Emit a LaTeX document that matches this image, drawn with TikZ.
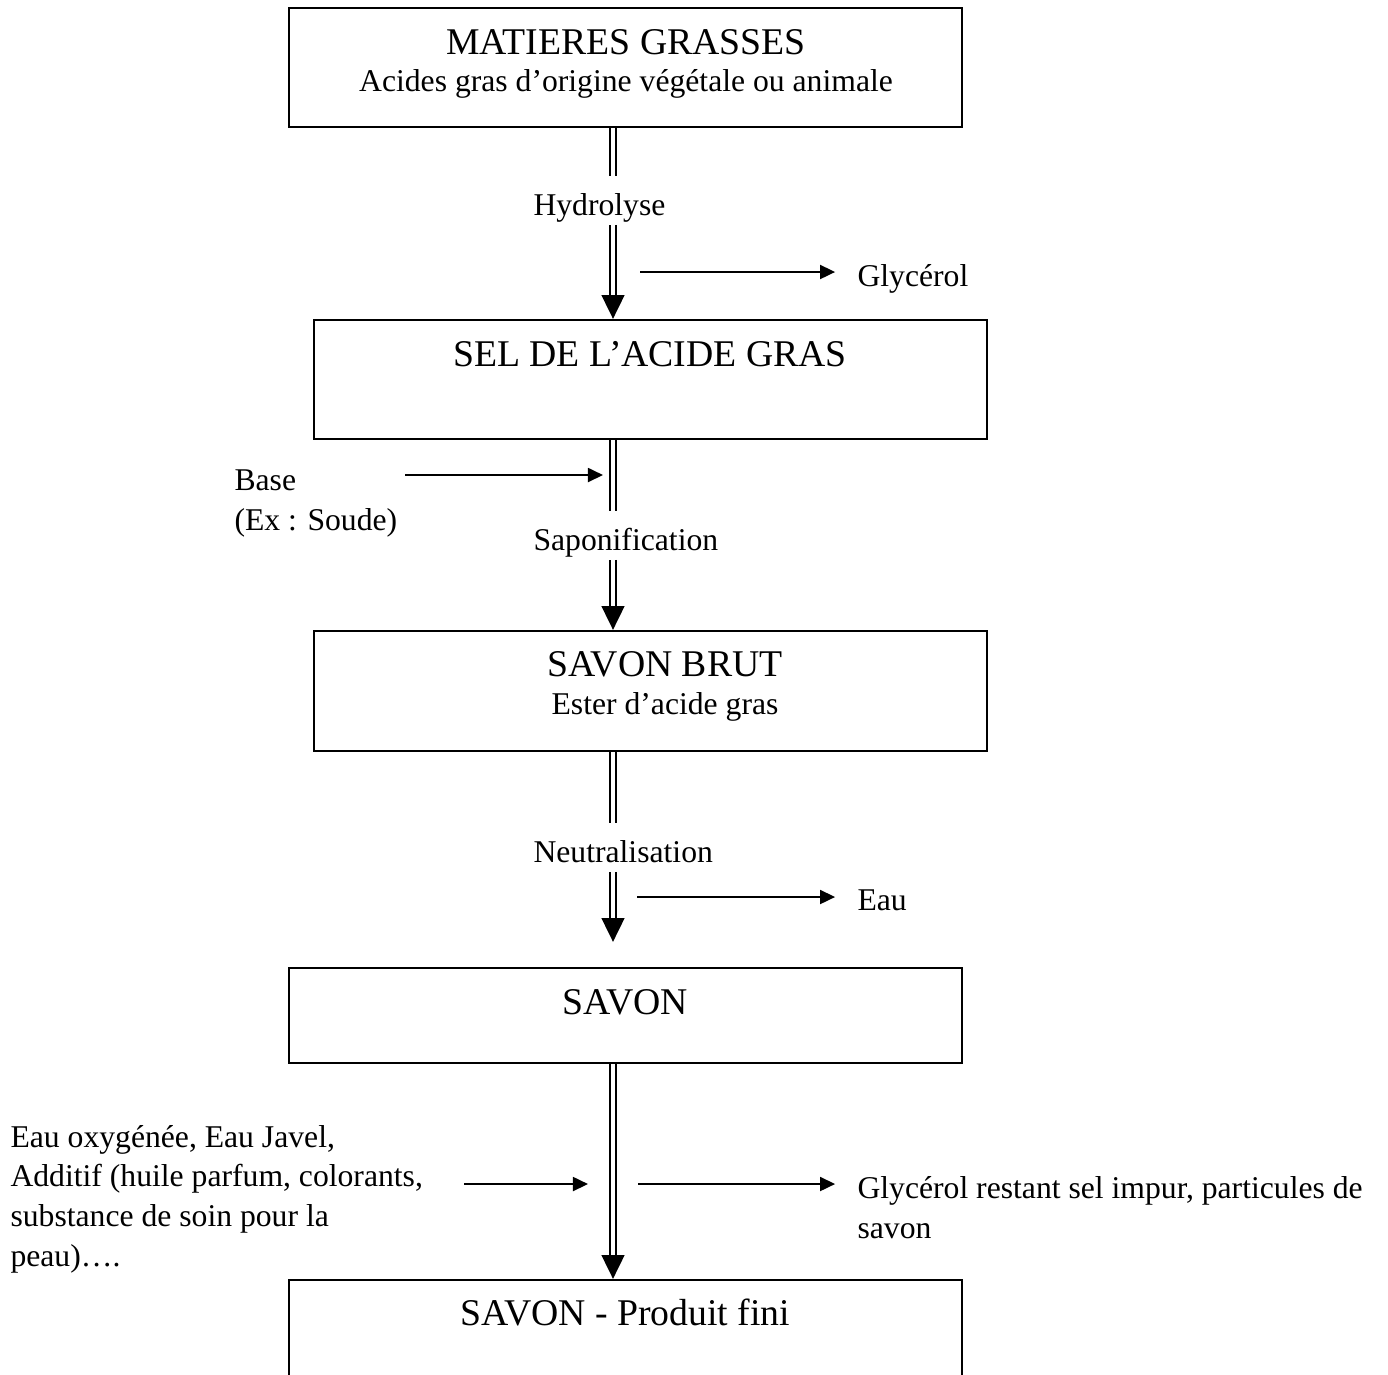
\documentclass[tikz,border=0pt]{standalone}
\usepackage{fontspec}
\setmainfont{Liberation Serif}
\usetikzlibrary{arrows.meta}
\newcommand{\px}{0.379pt}
\begin{document}
\begin{tikzpicture}[
    x=0.379pt, y=-0.379pt,
    boite/.style={draw, line width=0.9pt},
    titre/.style={font=\fontsize{14.3}{17}\selectfont, anchor=base, inner sep=0pt},
    sous/.style={font=\fontsize{12}{15}\selectfont, anchor=base, inner sep=0pt},
    etape/.style={font=\fontsize{12}{15}\selectfont, anchor=base west, inner xsep=0pt, inner ysep=0.5pt, text height=14pt, text depth=3pt},
    cote/.style={font=\fontsize{12}{15}\selectfont, anchor=base west, inner sep=0pt, align=left},
    dbl/.style={double, line width=0.7pt, double distance=1.3pt},
    tete/.style={line width=0.5pt, -{Triangle[width=8.7pt,length=9pt]}},
    fleche/.style={line width=0.75pt, -{Triangle[width=5.3pt,length=5.7pt]}}
  ]
    \useasboundingbox (0,0) rectangle (1388,1374);
    \clip (0,0) rectangle (1388,1374);
    \coordinate (axe) at (613,0);

    % --- Boites ---
    \node[boite, minimum width=673*\px, minimum height=119*\px] (mg) at (625.5,67.5) {};
    \node[titre] (mgt) at (626,54) {MATIERES GRASSES};
    \node[sous] (mgs) at (626,91) {Acides gras d’origine végétale ou animale};

    \node[boite, minimum width=673*\px, minimum height=119*\px] (sel) at (650.5,379.5) {};
    \node[titre] (selt) at (650,366) {SEL DE L’ACIDE GRAS};

    \node[boite, minimum width=673*\px, minimum height=120*\px] (brut) at (650.5,691) {};
    \node[titre] (brutt) at (665,676) {SAVON BRUT};
    \node[sous] (bruts) at (665,714) {Ester d’acide gras};

    \node[boite, minimum width=673*\px, minimum height=95*\px] (sav) at (625.5,1015.5) {};
    \node[titre] (savt) at (625.5,1014) {SAVON};

    \node[boite, minimum width=673*\px, minimum height=120*\px] (fin) at (625.5,1340) {};
    \node[titre] (fint) at (625.5,1325) {SAVON - Produit fini};

    % --- Etapes ---
    \node[etape] (hyd) at (533,215) {Hydrolyse};
    \node[etape] (sap) at (533,550) {Saponification};
    \node[etape] (neu) at (533,862) {Neutralisation};

    \coordinate (p1) at (sel.north -| axe);
    \coordinate (p2) at (brut.north -| axe);
    \coordinate (p3) at ([yshift=25*\px]sav.north -| axe);
    \coordinate (p4) at (fin.north -| axe);

    \draw[dbl] (mg.south -| axe) -- (hyd.north -| axe);
    \draw[dbl] (hyd.south -| axe) -- ([yshift=9pt]p1);
    \draw[tete] ([yshift=9pt]p1) -- (p1);

    \draw[dbl] (sel.south -| axe) -- (sap.north -| axe);
    \draw[dbl] (sap.south -| axe) -- ([yshift=9pt]p2);
    \draw[tete] ([yshift=9pt]p2) -- (p2);

    \draw[dbl] (brut.south -| axe) -- (neu.north -| axe);
    \draw[dbl] (neu.south -| axe) -- ([yshift=9pt]p3);
    \draw[tete] ([yshift=9pt]p3) -- (p3);

    \draw[dbl] (sav.south -| axe) -- ([yshift=9pt]p4);
    \draw[tete] ([yshift=9pt]p4) -- (p4);

    % --- Entrees et sorties ---
    \node[cote] (gly) at (857,286) {Glycérol};
    \coordinate (g0) at (640,272);
    \draw[fleche, shorten >=8.3pt] (g0) -- (g0 -| gly.west);

    \node[cote] (base) at (234,530) {Base\\(Ex : Soude)};
    \coordinate (b0) at (405,475);
    \coordinate (b1) at (603,475);
    \draw[fleche] (b0) -- (b1);

    \node[cote] (eau) at (857,910) {Eau};
    \coordinate (e0) at (637,897);
    \draw[fleche, shorten >=8.3pt] (e0) -- (e0 -| eau.west);

    \node[cote] (add) at (10,1266) {Eau oxygénée, Eau Javel,\\Additif (huile parfum, colorants,\\substance de soin pour la\\peau)….};
    \coordinate (a0) at (464,1184);
    \coordinate (a1) at (588,1184);
    \draw[fleche] (a0) -- (a1);

    \node[cote] (rest) at (857,1238) {Glycérol restant sel impur, particules de\\savon};
    \coordinate (r0) at (638,1184);
    \draw[fleche, shorten >=8.3pt] (r0) -- (r0 -| rest.west);
  \end{tikzpicture}
\end{document}
